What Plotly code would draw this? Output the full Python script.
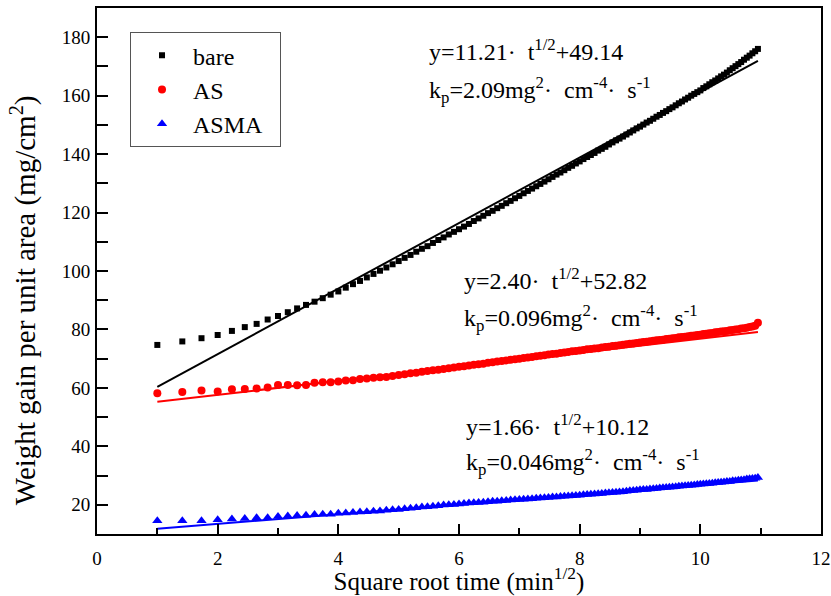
import numpy as np
import plotly.graph_objects as go

minutes = list(range(1, 121))
sqrt_time = np.sqrt(minutes)

series_names = ["bare", "AS", "ASMA"]
series_colors = ["#000000", "#ff0000", "#0000ff"]
series_symbols = ["square", "circle", "triangle-up"]

bare_gain = [
    74.7, 75.9, 77.0, 78.1, 79.5, 80.8, 81.9, 83.4, 84.6, 85.9,
    87.2, 88.4, 89.5, 90.7, 91.9, 93.0, 94.3, 95.5, 96.6, 97.8,
    99.0, 100.1, 101.2, 102.3, 103.4, 104.5, 105.5, 106.6, 107.6, 108.5,
    109.6, 110.6, 111.5, 112.5, 113.4, 114.3, 115.2, 116.1, 117.1, 118.0,
    118.9, 119.8, 120.6, 121.5, 122.3, 123.2, 124.0, 124.9, 125.7, 126.6,
    127.4, 128.2, 129.0, 129.8, 130.6, 131.4, 132.2, 133.0, 133.7, 134.5,
    135.3, 136.0, 136.8, 137.5, 138.3, 139.0, 139.7, 140.4, 141.2, 141.8,
    142.5, 143.3, 144.0, 144.7, 145.3, 146.0, 146.7, 147.4, 148.1, 148.8,
    149.4, 150.1, 150.8, 151.4, 152.1, 152.8, 153.4, 154.1, 154.7, 155.4,
    156.0, 156.7, 157.4, 158.0, 158.7, 159.3, 160.0, 160.6, 161.2, 161.8,
    162.6, 163.2, 163.9, 164.6, 165.2, 165.9, 166.6, 167.2, 167.9, 168.7,
    169.4, 170.1, 170.8, 171.5, 172.3, 173.0, 173.7, 174.5, 175.2, 176.0,
]
as_gain = [
    58.2, 58.6, 59.1, 58.8, 59.5, 59.6, 59.8, 60.1, 61.0, 61.0,
    60.9, 61.0, 61.8, 61.9, 61.9, 62.2, 62.5, 62.6, 63.0, 63.2,
    63.5, 63.6, 63.7, 64.1, 64.4, 64.7, 65.0, 65.2, 65.5, 65.8,
    66.0, 66.2, 66.5, 66.7, 67.0, 67.2, 67.4, 67.7, 67.9, 68.1,
    68.3, 68.6, 68.8, 69.0, 69.2, 69.4, 69.6, 69.8, 70.0, 70.2,
    70.4, 70.6, 70.8, 71.0, 71.2, 71.4, 71.6, 71.7, 71.9, 72.1,
    72.3, 72.5, 72.6, 72.8, 73.0, 73.2, 73.3, 73.5, 73.6, 73.8,
    74.0, 74.1, 74.3, 74.4, 74.6, 74.8, 74.9, 75.1, 75.2, 75.4,
    75.5, 75.7, 75.8, 76.0, 76.1, 76.3, 76.4, 76.5, 76.7, 76.8,
    77.0, 77.1, 77.3, 77.4, 77.5, 77.7, 77.8, 77.9, 78.1, 78.2,
    78.4, 78.5, 78.7, 78.8, 79.0, 79.1, 79.3, 79.4, 79.5, 79.7,
    79.8, 80.0, 80.1, 80.3, 80.4, 80.6, 80.8, 81.0, 81.3, 82.3,
]
asma_gain = [
    14.5, 14.5, 14.5, 14.9, 15.1, 15.3, 15.6, 15.6, 16.0, 16.2,
    16.3, 16.4, 16.7, 16.8, 16.8, 17.1, 17.2, 17.4, 17.5, 17.6,
    17.8, 17.9, 18.1, 18.3, 18.4, 18.6, 18.8, 19.0, 19.2, 19.3,
    19.5, 19.7, 19.9, 20.0, 20.1, 20.3, 20.4, 20.6, 20.7, 20.8,
    20.9, 21.0, 21.2, 21.2, 21.4, 21.5, 21.6, 21.7, 21.8, 21.9,
    22.0, 22.1, 22.2, 22.3, 22.4, 22.5, 22.7, 22.7, 22.8, 22.9,
    23.0, 23.1, 23.2, 23.3, 23.4, 23.5, 23.6, 23.7, 23.8, 23.9,
    24.0, 24.1, 24.2, 24.3, 24.4, 24.5, 24.6, 24.8, 24.9, 25.0,
    25.1, 25.2, 25.2, 25.4, 25.5, 25.6, 25.7, 25.8, 25.9, 26.0,
    26.1, 26.2, 26.3, 26.4, 26.5, 26.6, 26.7, 26.8, 26.9, 27.0,
    27.1, 27.2, 27.3, 27.4, 27.5, 27.6, 27.7, 27.8, 28.0, 28.0,
    28.2, 28.2, 28.4, 28.5, 28.6, 28.8, 28.9, 29.0, 29.1, 29.3,
]

fit_slopes = [11.21, 2.40, 1.66]
fit_intercepts = [49.14, 52.82, 10.12]

NB = "\u00a0"
eq_lines = [
    f"y=11.21·{NB}{NB}t<sup>1/2</sup>+49.14",
    f"y=2.40·{NB}{NB}t<sup>1/2</sup>+52.82",
    f"y=1.66·{NB}{NB}t<sup>1/2</sup>+10.12",
]
kp_lines = [
    f"k<sub>p</sub>=2.09mg<sup>2</sup>·{NB}{NB}cm<sup>-4</sup>·{NB}{NB}s<sup>-1</sup>",
    f"k<sub>p</sub>=0.096mg<sup>2</sup>·{NB}{NB}cm<sup>-4</sup>·{NB}{NB}s<sup>-1</sup>",
    f"k<sub>p</sub>=0.046mg<sup>2</sup>·{NB}{NB}cm<sup>-4</sup>·{NB}{NB}s<sup>-1</sup>",
]
# annotation anchor positions in data units (x, y of equation line, y of kp line)
ann_pos = [(5.47, 175.8, 161.8), (6.05, 97.3, 84.0), (6.08, 47.3, 34.6)]

x_title = "Square root time (min<sup>1/2</sup>)"
y_title = "Weight gain per unit area (mg/cm<sup>2</sup>)"

FONT = "Liberation Serif"
all_gain = [bare_gain, as_gain, asma_gain]
marker_sizes = [6, 8, 9]

fig = go.Figure()
for name, col, sym, ys, ms in zip(series_names, series_colors, series_symbols, all_gain, marker_sizes):
    fig.add_trace(go.Scatter(
        x=sqrt_time, y=ys, mode="markers", name=name + NB * 2,
        marker=dict(color=col, symbol=sym, size=ms, line=dict(width=0)),
    ))
for col, s, b in zip(series_colors, fit_slopes, fit_intercepts):
    xf = [sqrt_time[0], sqrt_time[-1]]
    fig.add_trace(go.Scatter(
        x=xf, y=[s * v + b for v in xf], mode="lines",
        line=dict(color=col, width=2), showlegend=False, hoverinfo="skip",
    ))

for (ax, ye, yk), e, k in zip(ann_pos, eq_lines, kp_lines):
    fig.add_annotation(x=ax, y=ye, xref="x", yref="y", text=e, showarrow=False,
                       xanchor="left", yanchor="middle",
                       font=dict(family=FONT, size=24, color="black"))
    fig.add_annotation(x=ax, y=yk, xref="x", yref="y", text=k, showarrow=False,
                       xanchor="left", yanchor="middle",
                       font=dict(family=FONT, size=24, color="black"))

# y-axis title as rotated annotation (placed like the reference)
fig.add_annotation(x=-0.1005, y=0.445, xref="paper", yref="paper", text=y_title,
                   textangle=-90, showarrow=False, xanchor="center", yanchor="middle",
                   font=dict(family=FONT, size=29, color="black"))

axis_common = dict(
    showline=True, linecolor="black", linewidth=2, mirror=True,
    ticks="inside", tickcolor="black", tickwidth=2,
    showgrid=False, zeroline=False,
    tickfont=dict(family=FONT, size=19, color="black"),
)
fig.update_xaxes(
    range=[0, 12], dtick=2, tick0=0, ticklen=10,
    minor=dict(dtick=1, ticklen=6, ticks="inside", tickcolor="black", tickwidth=2),
    title=dict(text=x_title, font=dict(family=FONT, size=25, color="black"), standoff=0),
    ticklabelstandoff=6,
    **axis_common,
)
fig.update_yaxes(
    range=[10, 190], dtick=20, tick0=0, ticklen=11,
    minor=dict(dtick=10, ticklen=11, ticks="inside", tickcolor="black", tickwidth=2),
    ticklabelstandoff=1,
    **axis_common,
)
fig.update_layout(
    width=831, height=596,
    margin=dict(l=97, r=10, t=8, b=62, autoexpand=False),
    paper_bgcolor="white", plot_bgcolor="white",
    showlegend=True,
    legend=dict(x=0.0456, y=0.954, xanchor="left", yanchor="top",
                bgcolor="white", bordercolor="#555555", borderwidth=1,
                font=dict(family=FONT, size=24, color="black"),
                itemwidth=52, tracegroupgap=0),
)
fig.write_html("out.html", config={"displayModeBar": False},
               post_script="document.body.style.margin='0';")
